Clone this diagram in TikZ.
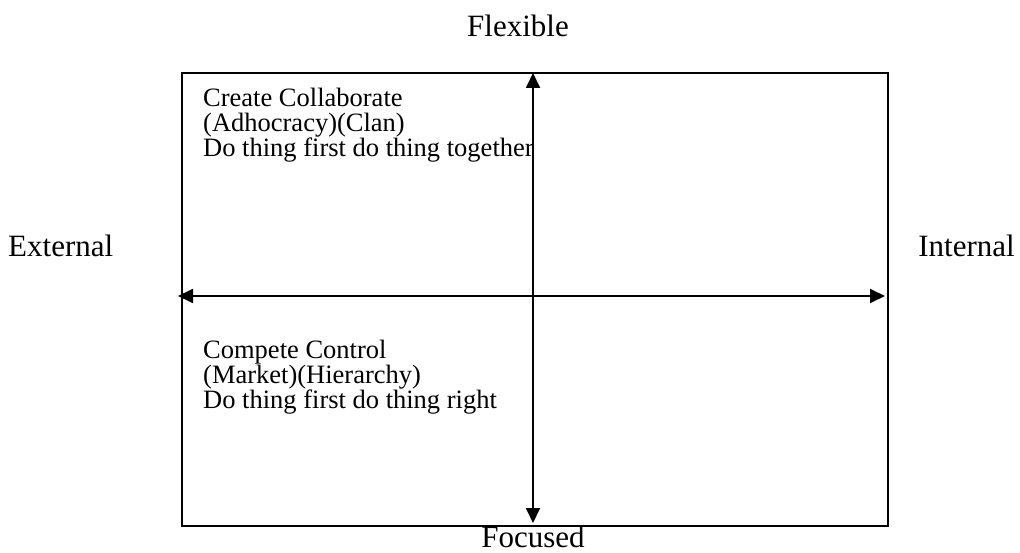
\documentclass[tikz,border=0pt]{standalone}
\usepackage{fontspec}
\setmainfont{Liberation Serif}
\usetikzlibrary{arrows.meta}
\begin{document}
\begin{tikzpicture}[x=1pt,y=-1pt,
  axis/.style={line width=1.8pt,{Triangle[length=15pt,width=14pt]}-{Triangle[length=15pt,width=14pt]}},
  frame/.style={draw,line width=1.8pt},
  pole/.style={font=\fontsize{31}{36}\selectfont,inner sep=0pt},
  quad/.style={font=\fontsize{26.5}{25}\selectfont,inner sep=0pt,align=left,anchor=base west}]
  \useasboundingbox (0,0) rectangle (1020,553);
  % outer frame of the grid
  \node[frame,minimum width=706pt,minimum height=453pt,inner sep=0pt,anchor=north west] (box) at (181,72) {};
  % axis end points
  \coordinate (top) at (533,73);
  \coordinate (bottom) at (533,523);
  \coordinate (left) at (178,296);
  \coordinate (right) at (885,296);
  \draw[axis] (bottom) -- (top);
  \draw[axis] (left) -- (right);
  % pole labels
  \node[pole,anchor=base] (flexible) at (518,37) {Flexible};
  \node[pole,anchor=base] (focused) at (533,547) {Focused};
  \node[pole,anchor=base west] (external) at (8,257) {External};
  \node[pole,anchor=base east] (internal) at (1015,257) {Internal};
  % quadrant texts (anchored at the baseline of the last line)
  \node[quad] (upper) at (203,157) {Create Collaborate\\(Adhocracy)(Clan)\\Do thing first do thing together};
  \node[quad] (lower) at (203,408) {Compete Control\\(Market)(Hierarchy)\\Do thing first do thing right};
\end{tikzpicture}
\end{document}
